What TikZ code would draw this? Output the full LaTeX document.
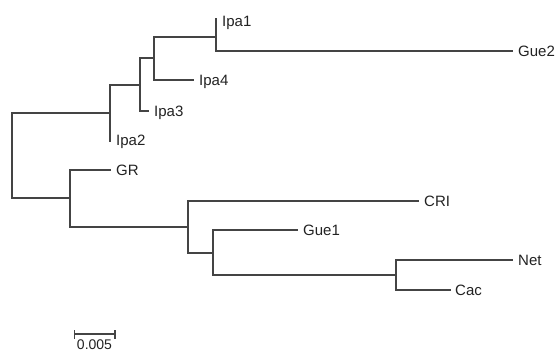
\documentclass[tikz,border=0pt]{standalone}
\usepackage{fontspec}
\setmainfont{Liberation Sans}
\definecolor{branch}{HTML}{444444}
\definecolor{labeltext}{HTML}{222222}
\begin{document}
\begin{tikzpicture}[x=1bp,y=-1bp,
  edge/.style={draw=branch,line width=1.2bp,line cap=rect},
  taxon/.style={anchor=west,inner xsep=0pt,inner ysep=0pt,text height=10.7bp,text depth=0pt,
    text=labeltext,font=\fontsize{15bp}{18bp}\selectfont},
  scalelab/.style={inner sep=0pt,text height=10bp,text depth=0pt,
    text=labeltext,font=\fontsize{14bp}{17bp}\selectfont}]
\useasboundingbox (0,0) rectangle (557,352);

% internal nodes
\coordinate (root) at (12,155.5);
\coordinate (nA) at (110,113);
\coordinate (nB) at (140,85);
\coordinate (nC) at (154,58);
\coordinate (nD) at (216,37);
\coordinate (nE) at (70,198);
\coordinate (nF) at (188,227);
\coordinate (nG) at (213,253);
\coordinate (nH) at (396,275);

% tips
\coordinate (tIpa1) at (216,18.3);
\coordinate (tGue2) at (512,51);
\coordinate (tIpa4) at (193,80);
\coordinate (tIpa3) at (148,111);
\coordinate (tIpa2) at (110,141.5);
\coordinate (tGR) at (110,170);
\coordinate (tCRI) at (418,201);
\coordinate (tGue1) at (297,230);
\coordinate (tNet) at (512,260);
\coordinate (tCac) at (450,290);

% branches
\draw[edge] (root) |- (nA);
\draw[edge] (root) |- (nE);
\draw[edge] (nA) |- (nB);
\draw[edge] (nA) |- (tIpa2);
\draw[edge] (nB) |- (nC);
\draw[edge] (nB) |- (tIpa3);
\draw[edge] (nC) |- (nD);
\draw[edge] (nC) |- (tIpa4);
\draw[edge] (nD) |- (tIpa1);
\draw[edge] (nD) |- (tGue2);
\draw[edge] (nE) |- (tGR);
\draw[edge] (nE) |- (nF);
\draw[edge] (nF) |- (tCRI);
\draw[edge] (nF) |- (nG);
\draw[edge] (nG) |- (tGue1);
\draw[edge] (nG) |- (nH);
\draw[edge] (nH) |- (tNet);
\draw[edge] (nH) |- (tCac);

% taxon labels
\node[taxon] (lIpa1) at ([xshift=6bp,yshift=-2.7bp]tIpa1) {Ipa1};
\node[taxon] (lGue2) at ([xshift=6bp]tGue2) {Gue2};
\node[taxon] (lIpa4) at ([xshift=6bp]tIpa4) {Ipa4};
\node[taxon] (lIpa3) at ([xshift=6bp]tIpa3) {Ipa3};
\node[taxon] (lIpa2) at ([xshift=6bp,yshift=1bp]tIpa2) {Ipa2};
\node[taxon] (lGR) at ([xshift=6bp]tGR) {GR};
\node[taxon] (lCRI) at ([xshift=6bp]tCRI) {CRI};
\node[taxon] (lGue1) at ([xshift=6bp]tGue1) {Gue1};
\node[taxon] (lNet) at ([xshift=6bp]tNet) {Net};
\node[taxon] (lCac) at ([xshift=5bp]tCac) {Cac};

% scale bar
\coordinate (sL) at (74.5,334);
\coordinate (sR) at (115,334);
\draw[edge,line cap=butt] (sL) -- (sR);
\draw[edge,line cap=butt] ([yshift=-4.5bp]sL) -- ([yshift=4.5bp]sL);
\draw[edge,line cap=butt] ([yshift=-4.5bp]sR) -- ([yshift=4.5bp]sR);
\node[scalelab] (lScale) at (94.5,344.5) {0.005};
\end{tikzpicture}
\end{document}
